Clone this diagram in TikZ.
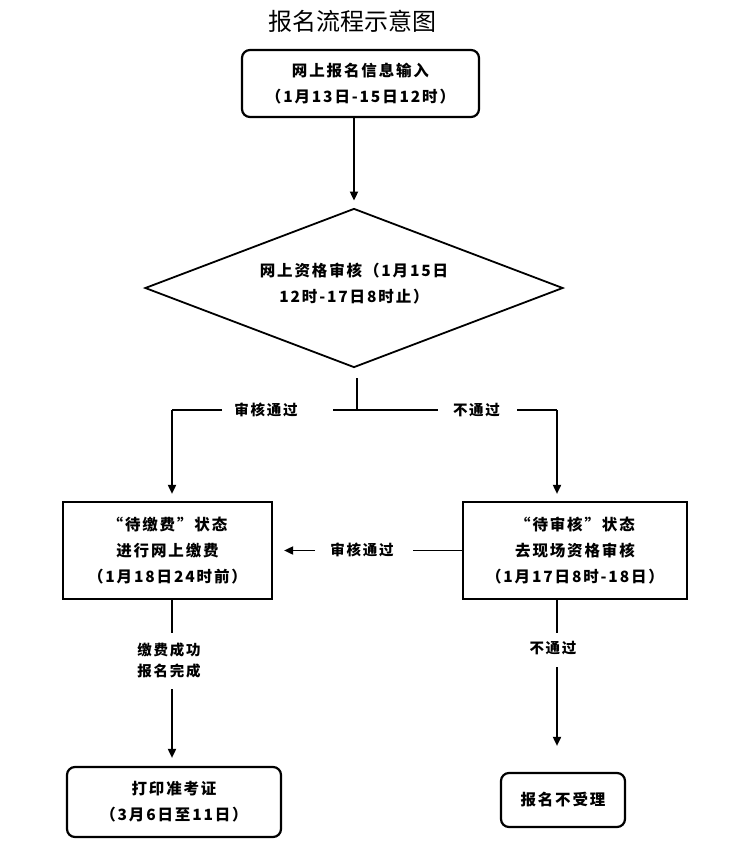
\documentclass[tikz,border=0pt]{standalone}
\usepackage{fontspec}
\newfontfamily\cjk{Noto Sans CJK SC}[LetterSpace=12]
\newfontfamily\cjktitle{Noto Sans CJK SC}
\usetikzlibrary{shapes.geometric,arrows.meta}
\begin{document}
\begin{tikzpicture}[x=1pt,y=-1pt,
  line width=1.8pt,
  txt/.style={font=\cjk\bfseries\fontsize{15.5}{26}\selectfont, align=center, inner sep=0pt},
  lbl/.style={font=\cjk\bfseries\fontsize{14.5}{21}\selectfont, align=center, inner sep=0pt},
  rbox/.style={draw, rounded corners=8pt, line width=2.2pt, inner sep=0pt},
  sbox/.style={draw, line width=2.2pt, inner sep=0pt},
  arr/.style={-{Triangle[length=9pt,width=8pt]}},
]
\useasboundingbox (0,0) rectangle (732,844);
\node[font=\cjktitle\fontsize{24}{28}\selectfont, inner sep=0pt] (title) at (352,21) {报名流程示意图};

\node[rbox, txt, minimum width=237pt, minimum height=67pt] (b1) at (360.5,83.5) {网上报名信息输入\\（1月13日-15日12时）};

\node[draw, diamond, minimum width=418pt, minimum height=159pt, inner sep=0pt, line width=1.8pt] (dia) at (354,288) {};
\node[txt] (diat) at (354,284) {网上资格审核（1月15日\\12时-17日8时止）};

\draw[arr, shorten >=7pt] (b1.south -| dia.north) -- (dia.north);

\node[sbox, txt, minimum width=209pt, minimum height=97pt] (A) at (167.5,550.5) {“待缴费”状态\\进行网上缴费\\（1月18日24时前）};
\node[sbox, txt, minimum width=224pt, minimum height=97pt] (B) at (575,550.5) {“待审核”状态\\去现场资格审核\\（1月17日8时-18日）};
\node[rbox, txt, minimum width=214pt, minimum height=70pt] (C) at (174,802) {打印准考证\\（3月6日至11日）};
\node[rbox, txt, minimum width=124pt, minimum height=54pt] (D) at (563,800) {报名不受理};

% junction below the diamond
\coordinate (j0) at (357,378);
\coordinate (j) at (357,410);
\coordinate (jl) at (172,410);
\coordinate (jr) at (557,410);
\node[lbl] (pass1) at (266,410) {审核通过};
\node[lbl] (fail1) at (476.5,410) {不通过};
\coordinate (g1a) at (222,410);
\coordinate (g1b) at (333,410);
\coordinate (g2a) at (438,410);
\coordinate (g2b) at (517,410);
\draw (j0) -- (j);
\draw (g1b) -- (g2a);
\draw (g1a) -- (jl);
\draw (g2b) -- (jr);
\draw[arr, shorten >=7pt] (jl) -- (jl |- A.north);
\draw[arr, shorten >=7pt] (jr) -- (jr |- B.north);

% B -> A
\node[lbl] (pass2) at (362,550) {审核通过};
\coordinate (m1) at (413,550.5);
\coordinate (m2) at (315,550.5);
\draw (B.west) -- (m1);
\draw[arr, shorten >=11pt] (m2) -- (m2 -| A.east);

% A -> C
\node[lbl] (paid) at (169,660) {缴费成功\\报名完成};
\coordinate (a1) at (172,633);
\coordinate (a2) at (172,689);
\draw (a1 |- A.south) -- (a1);
\draw[arr, shorten >=8pt] (a2) -- (a2 |- C.north);

% B -> D
\node[lbl] (fail2) at (553,648) {不通过};
\coordinate (r1) at (557,633);
\coordinate (r2) at (557,667);
\draw (r1 |- B.south) -- (r1);
\draw[arr, shorten >=26pt] (r2) -- (r2 |- D.north);
\end{tikzpicture}
\end{document}
